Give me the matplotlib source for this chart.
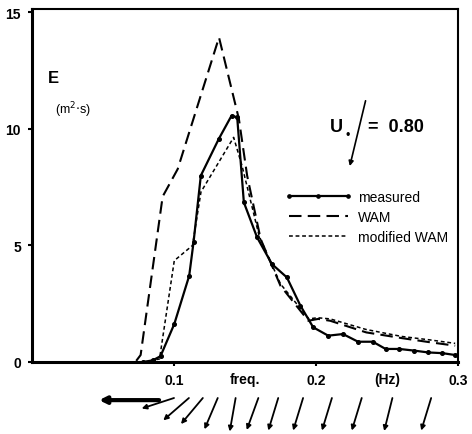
import matplotlib
matplotlib.use("Agg")
import matplotlib.pyplot as plt
import numpy as np
from matplotlib.transforms import offset_copy

plt.rcParams['font.family'] = ['Liberation Sans', 'DejaVu Sans']

# measured spectrum
measured_f = [0.078, 0.085, 0.0905, 0.1002, 0.1107, 0.1138, 0.1189, 0.1315, 0.1405, 0.1445,
              0.1492, 0.1585, 0.169, 0.1795, 0.189, 0.198, 0.2086, 0.219, 0.2296, 0.24,
              0.249, 0.2587, 0.269, 0.279, 0.289, 0.298]
measured_E = [0.0, 0.07, 0.25, 1.63, 3.7, 5.16, 8.0, 9.57, 10.57, 10.5,
              6.85, 5.35, 4.2, 3.63, 2.42, 1.49, 1.13, 1.2, 0.87, 0.87,
              0.56, 0.56, 0.49, 0.41, 0.38, 0.3]

# WAM model
wam_f = [0.0734, 0.0765, 0.092, 0.1026, 0.1317, 0.1457, 0.1515, 0.161, 0.175,
         0.1946, 0.2016, 0.21, 0.2354, 0.261, 0.28, 0.298]
wam_E = [0.05, 0.3, 7.1, 8.28, 13.93, 10.43, 8.0, 5.28, 3.27,
         1.77, 1.85, 1.77, 1.27, 1.02, 0.85, 0.7]

# modified WAM model
mod_f = [0.083, 0.0898, 0.1002, 0.113, 0.119, 0.142, 0.148, 0.16, 0.175,
         0.195, 0.201, 0.21, 0.235, 0.26, 0.28, 0.298]
mod_E = [0.05, 0.13, 4.35, 5.0, 7.3, 9.64, 8.4, 5.4, 3.35,
         1.85, 1.9, 1.85, 1.4, 1.1, 0.95, 0.8]

# wind direction arrows below the axis (tail frequency, direction in degrees)
wind_f = [0.1, 0.1105, 0.1203, 0.1308, 0.1434, 0.1594, 0.1734, 0.1909, 0.2112,
          0.2322, 0.2538, 0.2811]
wind_dir = [198, 221, 230, 247, 260, 250, 253, 253, 253, 253, 256, 253]
swell_f = 0.0895
swell_dir = 180

y_ticks = [0, 5, 10, 15]
x_ticks = [0.1, 0.2, 0.3]
x_minor = [0.15, 0.25]
x_minor_labels = ['freq.', '(Hz)']

fig = plt.figure(figsize=(4.72, 4.35), dpi=100)
ax = fig.add_axes([32 / 472, 1 - 363 / 435, 426 / 472, 353 / 435])

ax.plot(measured_f, measured_E, color='black', lw=1.6, marker='o', ms=2.6,
        label='measured')
ax.plot(wam_f, wam_E, color='black', lw=1.5, linestyle=(0, (6, 3)), label='WAM')
ax.plot(mod_f, mod_E, color='black', lw=1.1, linestyle=(0, (2.5, 1.8)),
        label='modified WAM')

ax.set_xlim(0, 0.3)
ax.set_ylim(0, 15.15)
ax.set_yticks(y_ticks, [str(t) for t in y_ticks], fontweight='bold', fontsize=10)
ax.set_xticks(x_ticks, ['0.1', '0.2', '0.3'], fontweight='bold', fontsize=10)
ax.set_xticks(x_minor, x_minor_labels, minor=True, fontweight='bold', fontsize=10)
ax.tick_params(which='major', direction='out', length=3, width=1.5, pad=5)
ax.tick_params(which='minor', length=0, pad=7)
for side in ['left', 'bottom']:
    ax.spines[side].set_linewidth(2.2)
for side in ['top', 'right']:
    ax.spines[side].set_linewidth(1.5)

ax.legend(loc='upper left', bbox_to_anchor=(0.594, 0.488), frameon=False,
          fontsize=10, handlelength=4.8, handletextpad=0.45, borderpad=0,
          borderaxespad=0, labelspacing=0.45, numpoints=3, markerscale=0.9)

ax.text(0.038, 0.807, 'E', transform=ax.transAxes, fontsize=12, fontweight='bold',
        va='center', ha='left')
ax.text(0.054, 0.717, r'(m$^2$$\cdot$s)', transform=ax.transAxes, fontsize=9,
        va='center', ha='left')

# friction velocity label with direction arrow
ax.text(0.700, 0.666, 'U', transform=ax.transAxes, fontsize=13, fontweight='bold',
        va='center', ha='left')
ax.text(0.735, 0.642, '\u2022', transform=ax.transAxes, fontsize=9,
        va='center', ha='left')
ax.text(0.789, 0.666, '=  0.80', transform=ax.transAxes, fontsize=13,
        fontweight='bold', va='center', ha='left')
ax.annotate('', xy=(0.746, 0.555), xycoords='axes fraction',
            xytext=(0.783, 0.740), textcoords='axes fraction',
            arrowprops=dict(arrowstyle='-|>', lw=1.2, color='black',
                            mutation_scale=7, shrinkA=0, shrinkB=0))

# wind direction arrows
base = ax.get_xaxis_transform()
arrow_len = 34
for f, d in zip(wind_f, wind_dir):
    dx = arrow_len * np.cos(np.radians(d))
    dy = arrow_len * np.sin(np.radians(d))
    head = offset_copy(base, fig=fig, x=dx, y=dy, units='dots')
    ax.annotate('', xy=(f, -0.102), xycoords=head,
                xytext=(f, -0.102), textcoords=base, annotation_clip=False,
                arrowprops=dict(arrowstyle='-|>', lw=1.3, color='black',
                                mutation_scale=7, shrinkA=0, shrinkB=0))
dx = 60 * np.cos(np.radians(swell_dir))
dy = 60 * np.sin(np.radians(swell_dir))
head = offset_copy(base, fig=fig, x=dx, y=dy, units='dots')
ax.annotate('', xy=(swell_f, -0.108), xycoords=head,
            xytext=(swell_f, -0.108), textcoords=base, annotation_clip=False,
            arrowprops=dict(arrowstyle='-|>', lw=3.0, color='black',
                            mutation_scale=10, shrinkA=0, shrinkB=0))

fig.savefig('out.png', dpi=100)
